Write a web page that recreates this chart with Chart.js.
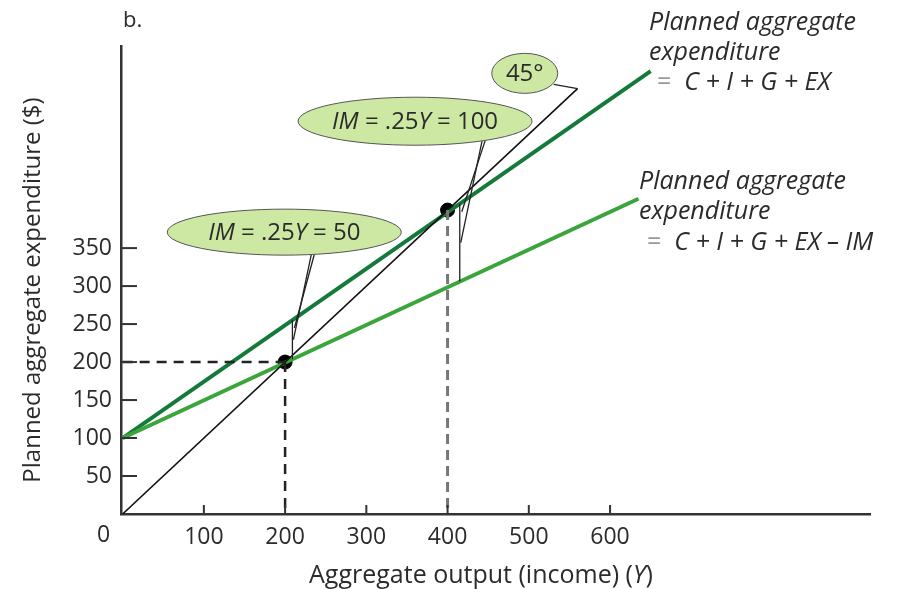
<!DOCTYPE html>
<html><head><meta charset="utf-8">
<script src="https://cdn.jsdelivr.net/npm/chart.js@4"></script>
<style>html,body{margin:0;padding:0;background:#fff}#wrap{width:902px;height:589px}</style>
</head><body><div id="wrap"><canvas id="c" width="902" height="589"></canvas></div>
<script>
// ---- data ----
const xTickValues = [100, 200, 300, 400, 500, 600];
const yTickValues = [50, 100, 150, 200, 250, 300, 350];
const aeWithoutImports = [{x: 0, y: 100}, {x: 650, y: 583}];   // C + I + G + EX
const aeWithImports    = [{x: 0, y: 100}, {x: 635, y: 415}];   // C + I + G + EX - IM
const line45           = [{x: 0, y: 0}, {x: 560, y: 560}];
const equilibria       = [{x: 200, y: 200}, {x: 400, y: 400}];
const importGapX       = [209, 415];
const calloutTexts     = [[["IM", 1], [" = .25", 0], ["Y", 1], [" = 50", 0]],
                          [["IM", 1], [" = .25", 0], ["Y", 1], [" = 100", 0]],
                          [["45°", 0]]];

// ---- styles ----
const DARK = '#137a3b', LIGHT = '#3ba53b', INK = '#2b2b2b', FILL = '#cde8a3';
const FONT = '"Open Sans", "DejaVu Sans", sans-serif';

function lineAt(series, x) {
  const a = series[0], b = series[series.length - 1];
  return a.y + (b.y - a.y) * (x - a.x) / (b.x - a.x);
}

const guideH = [{x: 0, y: equilibria[0].y}, {x: equilibria[0].x, y: equilibria[0].y}];
const guideV1 = [{x: equilibria[0].x, y: equilibria[0].y}, {x: equilibria[0].x, y: 0}];
const guideV2 = [{x: equilibria[1].x, y: equilibria[1].y}, {x: equilibria[1].x, y: 0}];

function rich(ctx, parts, x, y, size, align, color) {
  let w = 0;
  const fonts = parts.map(p => (p[1] ? 'italic ' : '') + size + 'px ' + FONT);
  parts.forEach((p, i) => { ctx.font = fonts[i]; w += ctx.measureText(p[0]).width; });
  let cx = align === 'center' ? x - w / 2 : (align === 'right' ? x - w : x);
  ctx.textAlign = 'left'; ctx.textBaseline = 'middle';
  parts.forEach((p, i) => {
    ctx.font = fonts[i]; ctx.fillStyle = p[2] || color || INK;
    ctx.fillText(p[0], cx, y); cx += ctx.measureText(p[0]).width;
  });
}

const decor = {
  id: 'decor',
  afterDatasetsDraw(chart) {
    const ctx = chart.ctx, ca = chart.chartArea;
    const xs = chart.scales.x, ys = chart.scales.y;
    const X = v => xs.getPixelForValue(v), Y = v => ys.getPixelForValue(v);
    ctx.save();
    // inward tick marks
    ctx.strokeStyle = '#333'; ctx.lineWidth = 2;
    yTickValues.forEach(v => { ctx.beginPath(); ctx.moveTo(ca.left + 1, Y(v)); ctx.lineTo(ca.left + 16, Y(v)); ctx.stroke(); });
    xTickValues.forEach(v => { ctx.beginPath(); ctx.moveTo(X(v), ca.bottom); ctx.lineTo(X(v), ca.bottom - 9); ctx.stroke(); });

    // import-gap brackets
    ctx.strokeStyle = '#222'; ctx.lineWidth = 1.3;
    const gaps = importGapX.map(gx => ({px: X(gx), top: Y(lineAt(aeWithoutImports, gx)), bot: Y(lineAt(aeWithImports, gx))}));
    gaps.forEach(g => { ctx.beginPath(); ctx.moveTo(g.px, g.top); ctx.lineTo(g.px, g.bot); ctx.stroke(); });

    // callouts
    const callouts = [
      {cx: X(199), cy: Y(371), rx: 117, ry: 23, to: gaps[0], off: 27},
      {cx: X(360), cy: Y(517), rx: 117, ry: 24, to: gaps[1], off: 67},
      {cx: X(495), cy: Y(580), rx: 33, ry: 20}
    ];
    // pointers
    callouts.slice(0, 2).forEach(c => {
      const sx = c.cx + c.off, sy = c.cy + c.ry * Math.sqrt(1 - (c.off / c.rx) ** 2);
      ctx.beginPath(); ctx.moveTo(sx, sy); ctx.lineTo(c.to.px + 1, (c.to.top + c.to.bot) / 2); ctx.stroke();
      ctx.beginPath(); ctx.moveTo(sx + 3, sy); ctx.lineTo(c.to.px + 2, c.to.top + 8); ctx.stroke();
    });
    const c45 = callouts[2], end45 = line45[line45.length - 1];
    ctx.beginPath(); ctx.moveTo(c45.cx + 29, c45.cy + 11); ctx.lineTo(X(end45.x), Y(end45.y)); ctx.stroke();
    callouts.forEach((c, i) => {
      ctx.beginPath(); ctx.ellipse(c.cx, c.cy, c.rx, c.ry, 0, 0, Math.PI * 2);
      ctx.fillStyle = FILL; ctx.fill(); ctx.strokeStyle = '#555'; ctx.lineWidth = 1; ctx.stroke();
      rich(ctx, calloutTexts[i], c.cx, c.cy + 1, 24, 'center');
    });

    // axis titles, origin label, panel letter
    rich(ctx, [['0', 0]], X(0) - 19, 535, 23, 'center');
    rich(ctx, [['Aggregate output (income) (', 0], ['Y', 1], [')', 0]], 481, 576, 25, 'center');
    ctx.save(); ctx.translate(33, 290); ctx.rotate(-Math.PI / 2);
    rich(ctx, [['Planned aggregate expenditure ($)', 0]], 0, 0, 24, 'center');
    ctx.restore();
    rich(ctx, [['b.', 0]], 123, 21, 22, 'left');

    // line labels
    rich(ctx, [['Planned aggregate', 1]], 649, 23, 25, 'left');
    rich(ctx, [['expenditure', 1]], 649, 53, 25, 'left');
    rich(ctx, [['=', 0, '#999'], ['  C + I + G + EX', 1]], 657, 83, 25, 'left');
    rich(ctx, [['Planned aggregate', 1]], 639, 182, 25, 'left');
    rich(ctx, [['expenditure', 1]], 639, 212, 25, 'left');
    rich(ctx, [['=', 0, '#999'], ['  C + I + G + EX \u2013 IM', 1]], 647, 243, 25, 'left');
    ctx.restore();
  }
};

const lineDs = (data, color, width, extra) => Object.assign({data, showLine: true, borderColor: color, borderWidth: width, pointRadius: 0, fill: false}, extra || {});

new Chart(document.getElementById('c'), {
  type: 'scatter',
  data: {
    datasets: [
      lineDs(guideH, '#222', 2.5, {borderDash: [10, 7]}),
      lineDs(guideV1, '#222', 2.5, {borderDash: [10, 7]}),
      lineDs(guideV2, '#777', 3, {borderDash: [10, 6]}),
      lineDs(line45, '#111', 1.6),
      lineDs(aeWithImports, LIGHT, 4),
      lineDs(aeWithoutImports, DARK, 4),
      {data: equilibria, pointRadius: 7, pointBackgroundColor: '#000', pointBorderColor: '#000', showLine: false}
    ]
  },
  options: {
    responsive: false, animation: false,
    layout: {padding: {left: 0, right: 32, top: 46, bottom: 0}},
    plugins: {legend: {display: false}, tooltip: {enabled: false}},
    scales: {
      x: {
        type: 'linear', min: -2, max: 920,
        grid: {display: false, drawTicks: false},
        border: {display: true, color: '#333', width: 2.5},
        afterBuildTicks: s => { s.ticks = xTickValues.map(v => ({value: v})); },
        afterFit: s => { s.height = 75; },
        ticks: {padding: 10, color: INK, font: {family: FONT, size: 23}, callback: v => String(v)}
      },
      y: {
        type: 'linear', min: 0, max: 616,
        grid: {display: false, drawTicks: false},
        border: {display: true, color: '#333', width: 2.5},
        afterBuildTicks: s => { s.ticks = yTickValues.map(v => ({value: v})); },
        afterFit: s => { s.width = 121; },
        ticks: {padding: 9, color: INK, font: {family: FONT, size: 23}, callback: v => String(v)}
      }
    }
  },
  plugins: [decor]
});
</script></body></html>
